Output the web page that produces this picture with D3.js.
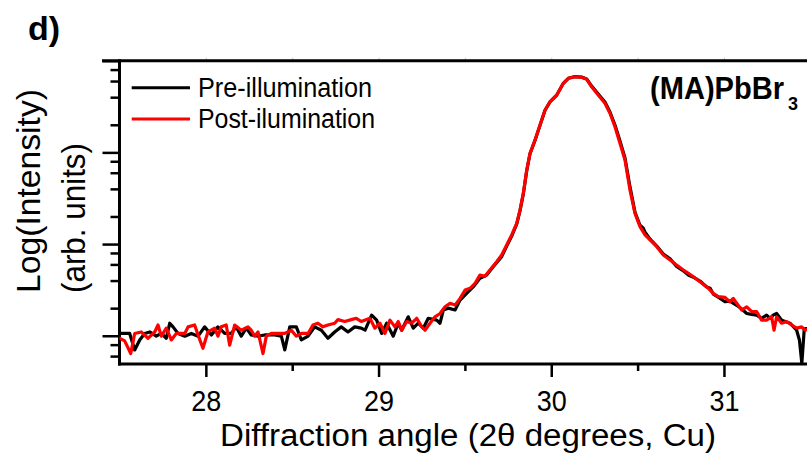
<!DOCTYPE html>
<html>
<head>
<meta charset="utf-8">
<script src="https://cdn.jsdelivr.net/npm/d3@7"></script>
<style>
  html, body { margin: 0; padding: 0; background: #fff; }
  svg { display: block; font-family: "Liberation Sans", Arial, Helvetica, sans-serif; }
</style>
</head>
<body>
<script>
// ---------------- data ----------------
const seriesNames = ["Pre-illumination", "Post-ilumination"];
const seriesColors = ["#000000", "#ff0000"];

const xMajorTicks = [28, 29, 30, 31];
const xMinorTicks = [28.5, 29.5, 30.5, 31.5];
const yMajorTicks = [10, 100, 1000, 10000];
const yMinorTicks = [6, 8, 20, 40, 60, 80, 200, 400, 600, 800, 2000, 4000, 6000, 8000];

// Pre-illumination (black)
const preAngle = [27.500, 27.530, 27.559, 27.588, 27.617, 27.646, 27.675, 27.713, 27.742, 27.771,
  27.791, 27.810, 27.839, 27.878, 27.916, 27.955, 27.993, 28.032, 28.070, 28.109,
  28.147, 28.176, 28.205, 28.234, 28.263, 28.302, 28.341, 28.399, 28.437, 28.457,
  28.486, 28.524, 28.553, 28.592, 28.630, 28.669, 28.707, 28.746, 28.784, 28.823,
  28.862, 28.900, 28.922, 28.960, 28.989, 29.018, 29.047, 29.085, 29.114, 29.134,
  29.172, 29.201, 29.230, 29.259, 29.288, 29.337, 29.356, 29.375, 29.404, 29.443,
  29.472, 29.510, 29.549, 29.587, 29.626, 29.664, 29.713, 29.742, 29.771, 29.800,
  29.819, 29.838, 29.858, 29.877, 29.906, 29.935, 29.964, 29.993, 30.032, 30.070,
  30.099, 30.138, 30.176, 30.205, 30.234, 30.272, 30.311, 30.340, 30.369, 30.398,
  30.427, 30.456, 30.485, 30.514, 30.532, 30.543, 30.572, 30.611, 30.649, 30.688,
  30.726, 30.765, 30.794, 30.823, 30.861, 30.900, 30.920, 30.938, 30.967, 31.006,
  31.034, 31.074, 31.103, 31.132, 31.161, 31.190, 31.218, 31.247, 31.267, 31.285,
  31.305, 31.334, 31.363, 31.382, 31.421, 31.437, 31.451, 31.465, 31.490];
const preIntensity = [10.6, 10.6, 10.6, 7.0, 9.0, 10.6, 11.0, 9.9, 10.6, 9.4,
  13.7, 12.5, 10.6, 9.9, 10.6, 9.9, 12.5, 10.2, 12.5, 10.6,
  10.6, 12.5, 9.9, 12.1, 10.2, 9.9, 10.2, 10.2, 9.9, 7.0,
  12.5, 12.5, 9.0, 9.9, 12.5, 11.5, 9.4, 11.0, 12.5, 11.0,
  12.5, 12.1, 11.5, 16.8, 14.8, 10.6, 13.7, 9.9, 13.7, 11.5,
  16.1, 12.1, 13.7, 12.1, 15.5, 14.8, 13.7, 19.1, 20.0, 19.1,
  24.5, 29.0, 34.3, 42.3, 45.9, 56.6, 73, 95, 122, 165,
  230, 350, 630, 965, 1350, 1975, 2880, 3560, 4225, 5665,
  6430, 6700, 6620, 6330, 5280, 4320, 3540, 2760, 1990, 1330,
  870, 420, 222, 160, 150, 135, 113, 95, 78, 69,
  57, 51, 46, 43.5, 39.5, 34, 32.9, 28.5, 26.4, 23.5,
  23.9, 21.5, 19.6, 17.5, 17.1, 16.8, 15.5, 16.8, 15.5, 16.8,
  17.5, 14.8, 14.1, 13.7, 11.5, 9.0, 5.0, 11.9, 12.0];

// Post-illumination (red)
const postAngle = [27.500, 27.530, 27.565, 27.588, 27.626, 27.665, 27.704, 27.723, 27.742, 27.771,
  27.800, 27.829, 27.878, 27.897, 27.935, 27.955, 27.983, 28.012, 28.051, 28.070,
  28.089, 28.118, 28.138, 28.167, 28.205, 28.244, 28.263, 28.283, 28.302, 28.331,
  28.350, 28.379, 28.418, 28.457, 28.495, 28.524, 28.553, 28.592, 28.620, 28.649,
  28.678, 28.707, 28.746, 28.765, 28.804, 28.842, 28.871, 28.900, 28.950, 28.979,
  29.008, 29.037, 29.066, 29.095, 29.114, 29.134, 29.163, 29.192, 29.221, 29.250,
  29.269, 29.298, 29.327, 29.356, 29.385, 29.414, 29.443, 29.472, 29.501, 29.530,
  29.559, 29.587, 29.616, 29.645, 29.684, 29.713, 29.742, 29.771, 29.800, 29.819,
  29.838, 29.858, 29.877, 29.906, 29.935, 29.964, 29.993, 30.032, 30.070, 30.099,
  30.138, 30.176, 30.205, 30.234, 30.272, 30.311, 30.340, 30.369, 30.398, 30.427,
  30.456, 30.485, 30.514, 30.543, 30.572, 30.611, 30.649, 30.688, 30.726, 30.765,
  30.794, 30.823, 30.861, 30.900, 30.938, 30.967, 31.006, 31.034, 31.054, 31.074,
  31.103, 31.132, 31.161, 31.190, 31.218, 31.247, 31.276, 31.290, 31.305, 31.334,
  31.363, 31.392, 31.421, 31.450, 31.469, 31.490];
const postIntensity = [9.4, 8.8, 6.4, 10.6, 11.0, 9.4, 11.0, 13.1, 9.9, 12.1,
  9.0, 10.6, 10.6, 12.5, 13.1, 10.2, 7.3, 11.0, 12.1, 9.9,
  12.5, 13.1, 7.9, 13.1, 11.5, 12.5, 11.5, 9.9, 11.0, 6.4,
  9.9, 10.6, 10.6, 10.6, 11.5, 9.9, 10.6, 10.6, 13.1, 13.7,
  12.5, 13.1, 13.7, 15.0, 14.3, 15.0, 15.5, 14.3, 15.5, 12.1,
  13.7, 10.6, 14.8, 12.5, 14.3, 11.5, 14.3, 13.7, 15.5, 12.5,
  11.5, 13.7, 16.1, 17.5, 20.7, 22.6, 21.6, 25.6, 31.5, 32.9,
  37.3, 45.9, 44.5, 52.1, 64.1, 75.9, 97.7, 126, 168, 235,
  357, 643, 977, 1365, 1990, 2900, 3570, 4225, 5665, 6430,
  6685, 6590, 6270, 5200, 4225, 3430, 2670, 1905, 1256, 826,
  388, 216, 155, 126, 111, 93.5, 75.9, 67.0, 59.0, 52.1,
  48.0, 44.0, 38.8, 34.3, 29.0, 26.7, 26.2, 23.5, 25.6, 22.6,
  19.1, 20.7, 18.3, 18.3, 14.8, 14.8, 16.1, 11.5, 16.1, 13.7,
  14.3, 13.1, 12.1, 12.5, 11.5, 11.8];

// ---------------- layout ----------------
const W = 807, H = 454;
const plot = { left: 119.5, right: 810.3, top: 60.7, bottom: 364 };
const FONT = "'Liberation Sans', Arial, Helvetica, sans-serif";

const svg = d3.select("body").append("svg")
  .attr("width", W).attr("height", H)
  .attr("viewBox", `0 0 ${W} ${H}`);

const x = d3.scaleLinear().domain([27.5, 31.5]).range([plot.left, plot.right]);
const y = d3.scaleLog().domain([4.92, 10000]).range([plot.bottom, plot.top]);

// clip
svg.append("defs").append("clipPath").attr("id", "clip")
  .append("rect")
  .attr("x", plot.left).attr("y", plot.top - 2)
  .attr("width", plot.right - plot.left).attr("height", plot.bottom - plot.top + 2);

// ---------------- axes ----------------
function styleAxis(g, w) {
  g.select(".domain").remove();
  g.selectAll(".tick line").attr("stroke", "#000").attr("stroke-width", w);
}

// bottom major
const xMajor = svg.append("g")
  .attr("transform", `translate(0,${plot.bottom})`)
  .call(d3.axisBottom(x).tickValues(xMajorTicks).tickSize(13).tickPadding(4)
        .tickFormat(d3.format("d")));
styleAxis(xMajor, 2.5);
xMajor.selectAll(".tick text")
  .attr("y", 47).attr("dy", 0)
  .attr("fill", "#000")
  .style("font-family", FONT)
  .style("font-size", "30px")
  .attr("textLength", 30).attr("lengthAdjust", "spacingAndGlyphs");

// bottom minor
const xMinor = svg.append("g")
  .attr("transform", `translate(0,${plot.bottom})`)
  .call(d3.axisBottom(x).tickValues(xMinorTicks).tickSize(7).tickFormat(""));
styleAxis(xMinor, 2.5);

// top faint ticks
const xTop = svg.append("g")
  .attr("transform", `translate(0,${plot.top})`)
  .call(d3.axisTop(x).tickValues(xMajorTicks.concat(xMinorTicks)).tickSize(3).tickFormat(""));
styleAxis(xTop, 1);
xTop.selectAll(".tick line").attr("stroke", "#c8c8c8");

// left major
const yMajor = svg.append("g")
  .attr("transform", `translate(${plot.left},0)`)
  .call(d3.axisLeft(y).tickValues(yMajorTicks).tickSize(17).tickFormat(""));
styleAxis(yMajor, 2.5);

// left minor
const yMinor = svg.append("g")
  .attr("transform", `translate(${plot.left},0)`)
  .call(d3.axisLeft(y).tickValues(yMinorTicks).tickSize(9).tickFormat(""));
styleAxis(yMinor, 2.5);

// frame lines (left, bottom, top)
svg.append("line")
  .attr("x1", plot.left).attr("x2", plot.left)
  .attr("y1", plot.top - 1.5).attr("y2", plot.bottom + 1.5)
  .attr("stroke", "#000").attr("stroke-width", 3);
svg.append("line")
  .attr("x1", plot.left - 1.5).attr("x2", W + 5)
  .attr("y1", plot.bottom).attr("y2", plot.bottom)
  .attr("stroke", "#000").attr("stroke-width", 3);
svg.append("line")
  .attr("x1", plot.left - 17.5).attr("x2", W + 5)
  .attr("y1", plot.top).attr("y2", plot.top)
  .attr("stroke", "#000").attr("stroke-width", 3);

// ---------------- data lines ----------------
const line = d3.line().x(d => x(d[0])).y(d => y(d[1]));
const series = [
  d3.zip(preAngle, preIntensity),
  d3.zip(postAngle, postIntensity)
];
const gLines = svg.append("g").attr("clip-path", "url(#clip)");
series.forEach((s, i) => {
  gLines.append("path")
    .datum(s)
    .attr("d", line)
    .attr("fill", "none")
    .attr("stroke", seriesColors[i])
    .attr("stroke-width", 3.2)
    .attr("stroke-linejoin", "round")
    .attr("stroke-linecap", "round");
});

// ---------------- legend ----------------
const legendY = [87.7, 119];
const legendTextW = [174, 177];
seriesNames.forEach((name, i) => {
  svg.append("line")
    .attr("x1", 131.7).attr("x2", 190)
    .attr("y1", legendY[i]).attr("y2", legendY[i])
    .attr("stroke", seriesColors[i]).attr("stroke-width", 3);
  svg.append("text")
    .attr("x", 198).attr("y", legendY[i] + 9)
    .style("font-family", FONT).style("font-size", "27px")
    .attr("textLength", legendTextW[i]).attr("lengthAdjust", "spacingAndGlyphs")
    .attr("fill", "#000")
    .text(name);
});

// ---------------- annotations ----------------
svg.append("text")
  .attr("x", 650).attr("y", 98.5)
  .style("font-family", FONT).style("font-size", "31px").style("font-weight", "bold")
  .attr("textLength", 134).attr("lengthAdjust", "spacingAndGlyphs")
  .attr("fill", "#000")
  .text("(MA)PbBr");
svg.append("text")
  .attr("x", 788).attr("y", 110)
  .style("font-family", FONT).style("font-size", "18px").style("font-weight", "bold")
  .attr("fill", "#000")
  .text("3");

svg.append("text")
  .attr("x", 28).attr("y", 40)
  .style("font-family", FONT).style("font-size", "34px").style("font-weight", "bold")
  .attr("fill", "#000")
  .text("d)");

// axis titles
svg.append("text")
  .attr("x", 468).attr("y", 446)
  .attr("text-anchor", "middle")
  .style("font-family", FONT).style("font-size", "31px")
  .attr("textLength", 496).attr("lengthAdjust", "spacingAndGlyphs")
  .attr("fill", "#000")
  .text("Diffraction angle (2\u03b8 degrees, Cu)");

svg.append("text")
  .attr("transform", "translate(40,293) rotate(-90)")
  .attr("x", 0).attr("y", 0)
  .style("font-family", FONT).style("font-size", "33px")
  .attr("textLength", 204).attr("lengthAdjust", "spacingAndGlyphs")
  .attr("fill", "#000")
  .text("Log(Intensity)");
svg.append("text")
  .attr("transform", "translate(85,293) rotate(-90)")
  .attr("x", 0).attr("y", 0)
  .style("font-family", FONT).style("font-size", "33px")
  .attr("textLength", 150).attr("lengthAdjust", "spacingAndGlyphs")
  .attr("fill", "#000")
  .text("(arb. units)");
</script>
</body>
</html>
